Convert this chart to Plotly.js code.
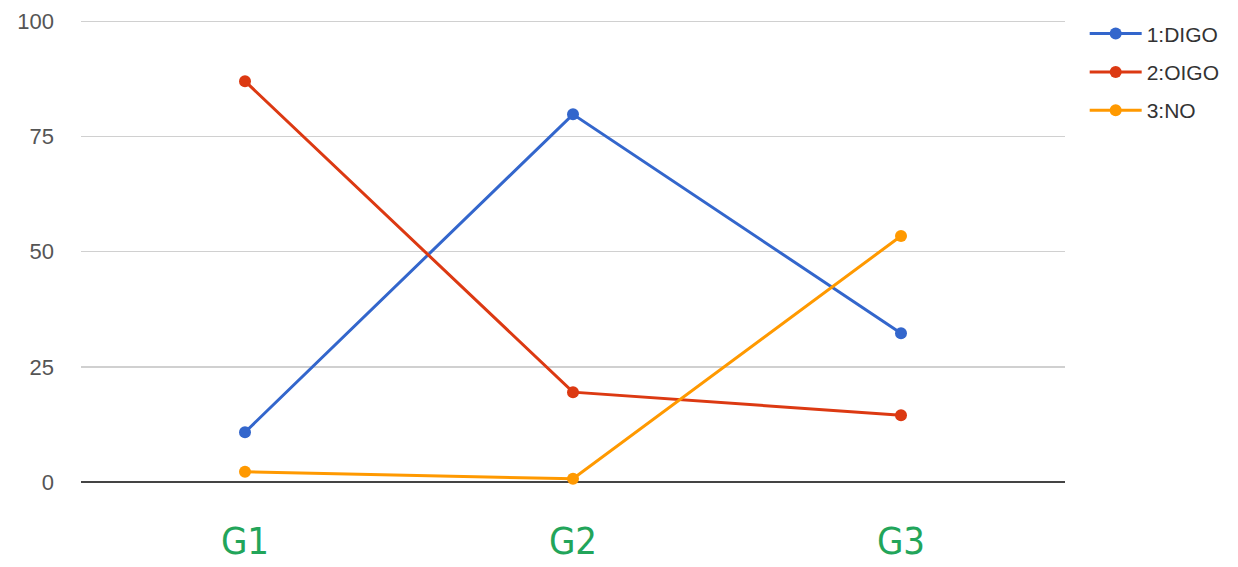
<!DOCTYPE html>
<html>
<head>
<meta charset="utf-8">
<script src="https://cdn.plot.ly/plotly-3.0.1.min.js"></script>
<style>
  html, body { margin: 0; padding: 0; background: #ffffff; }
  #chart { width: 1238px; height: 567px; }
</style>
</head>
<body>
<div id="chart"></div>
<script>
// Groups along the x axis
const groups = ['G1', 'G2', 'G3'];

// Series values per group
const digo = [10.8, 79.8, 32.3];
const oigo = [87.0, 19.5, 14.5];
const no   = [2.2, 0.7, 53.4];

const seriesNames = ['1:DIGO', '2:OIGO', '3:NO'];
const seriesColors = ['#3366cc', '#dc3912', '#ff9900'];

const yTicks = [0, 25, 50, 75, 100];

const traces = [digo, oigo, no].map((vals, i) => ({
  type: 'scatter',
  mode: 'lines+markers',
  name: seriesNames[i],
  legendgroup: 'g' + i,
  x: groups,
  y: vals,
  line: { color: seriesColors[i], width: 3 },
  marker: { color: seriesColors[i], size: 12 },
  cliponaxis: false
}));

const layout = {
  width: 1238,
  height: 567,
  margin: { l: 81, r: 173, t: 19, b: 85 },
  paper_bgcolor: '#ffffff',
  plot_bgcolor: '#ffffff',
  showlegend: true,
  legend: {
    x: 1.02, y: 1.012,
    xanchor: 'left', yanchor: 'top',
    font: { family: 'Liberation Sans, Arial, sans-serif', size: 21, color: '#333333' },
    itemwidth: 52,
    tracegroupgap: 8,
    bgcolor: 'rgba(0,0,0,0)'
  },
  xaxis: {
    type: 'category',
    range: [-0.5, 2.5],
    showgrid: false,
    zeroline: false,
    showline: false,
    ticks: '',
    ticklabelstandoff: 33,
    tickfont: { family: 'Liberation Sans Narrow, DejaVu Sans Condensed, sans-serif', size: 38, color: '#22a55a' }
  },
  yaxis: {
    range: [0, 100.5],
    tickvals: yTicks,
    ticktext: yTicks.map(String),
    showgrid: true,
    gridcolor: '#d0d0d0',
    gridwidth: 1.5,
    zeroline: true,
    zerolinecolor: '#444444',
    zerolinewidth: 2,
    showline: false,
    ticks: '',
    ticklabelstandoff: 26,
    tickfont: { family: 'Liberation Sans, Arial, sans-serif', size: 22, color: '#555555' }
  }
};

Plotly.newPlot('chart', traces, layout, { displayModeBar: false, staticPlot: true });
</script>
</body>
</html>
